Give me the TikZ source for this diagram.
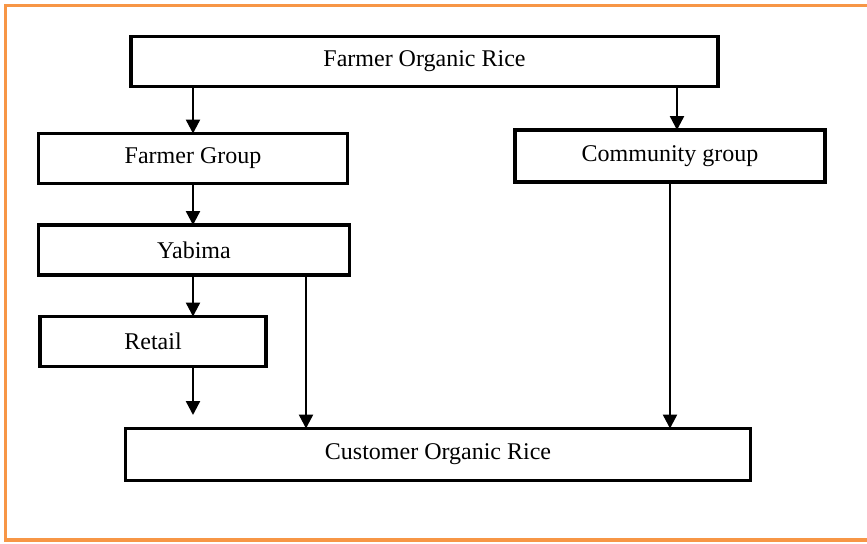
\documentclass[tikz,border=0pt]{standalone}
\usepackage{fontspec}
\setmainfont{Liberation Serif}
\usetikzlibrary{arrows.meta}
\definecolor{frameorange}{RGB}{247,150,70}
\begin{document}
\begin{tikzpicture}[x=0.5pt,y=-0.5pt,
    box/.style={draw,line width=1.9pt,outer sep=0pt,minimum height=25pt,
      font=\fontsize{12}{14}\selectfont},
    flow/.style={line width=1.2pt,-{Triangle[length=7pt,width=7pt]}}]
  \clip (0,0) rectangle (867,543);
  \draw[frameorange,line width=1.8pt] (5.5,5.5) rectangle (900,540);
  \node[box,minimum width=293.5pt] (farmer) at (424.5,61.5) {Farmer Organic Rice};
  \node[box,minimum width=154.5pt] (group) at (193,158.5) {Farmer Group};
  \node[box,minimum width=155pt,minimum height=26pt] (community) at (670,156) {Community group};
  \node[box,minimum width=155.5pt] (yabima) at (194,250) {Yabima};
  \node[box,minimum width=113pt] (retail) at (153,341.5) {Retail};
  \node[box,minimum width=312.5pt,minimum height=26pt] (customer) at (438,454.5) {Customer Organic Rice};
  \coordinate (retailend) at (193,415);
  \draw[flow] (group.north |- farmer.south) -- (group.north);
  \draw[flow] ([xshift=3.5pt]community.north |- farmer.south) -- ([xshift=3.5pt]community.north);
  \draw[flow] (group.south) -- (group.south |- yabima.north);
  \draw[flow] (yabima.south -| retailend) -- (retail.north -| retailend);
  \draw[flow] (retail.south -| retailend) -- (retailend);
  \draw[flow] ([xshift=56pt]yabima.south) -- ([xshift=56pt]yabima.south |- customer.north);
  \draw[flow] (community.south) -- (community.south |- customer.north);
\end{tikzpicture}
\end{document}
